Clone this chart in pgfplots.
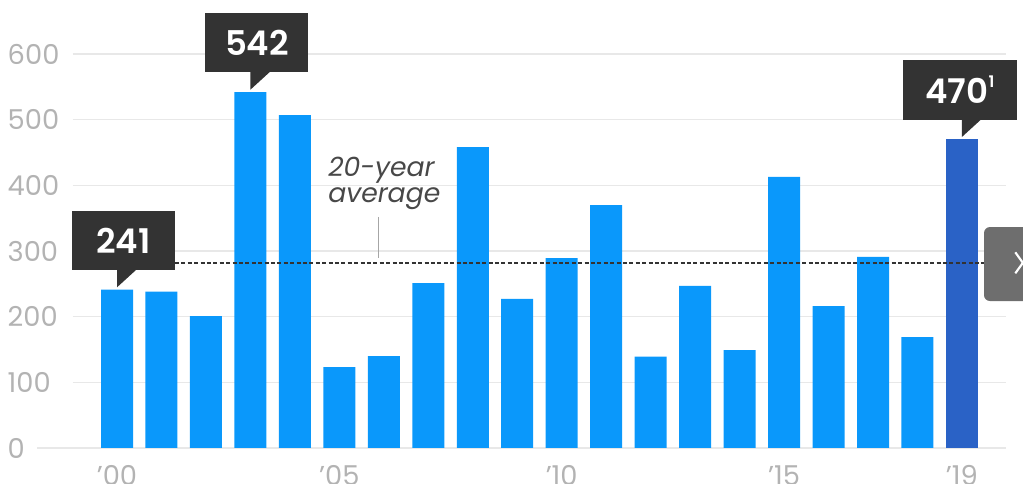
\documentclass[border=0pt]{standalone}
\usepackage{pgfplots}
\pgfplotsset{compat=1.18}
\usepackage{fontspec}
\setmainfont{Poppins}
\newfontface\semibold{Poppins SemiBold}
\usetikzlibrary{calc}
\definecolor{barblue}{HTML}{0A98FB}
\definecolor{lastblue}{HTML}{2A62C6}
\definecolor{callgray}{HTML}{333333}
\definecolor{tickgray}{HTML}{B3B3B3}
\definecolor{gridgray}{HTML}{E8E8E8}
\definecolor{btngray}{HTML}{6E6E6E}
\definecolor{notegray}{HTML}{484848}

\begin{document}
\begin{tikzpicture}
% 1 px of the reference = 0.75pt
\useasboundingbox (-54.4pt,-27pt) rectangle (712.85pt,336pt);
\begin{axis}[
    scale only axis,
    width=700.4pt, height=295.5pt,
    xmin=-1, xmax=20, ymin=0, ymax=600,
    clip=false,
    axis line style={draw=none},
    major tick length=0pt,
    ytick={0,100,...,600},
    xtick={0,5,10,15,19},
    xticklabels={’00,’05,’10,’15,’19},
    ymajorgrids,
    grid style={draw=gridgray, line width=0.9pt},
    /pgf/number format/assume math mode=true,
    ticklabel style={font=\fontsize{20.5}{20.5}\selectfont, text=tickgray},
    yticklabel style={anchor=east, inner sep=0pt, text width=48.4pt, align=left},
    xticklabel style={yshift=-9.5pt},
]
\draw[gridgray, line width=0.9pt] (axis cs:-1.8,0) -- (axis cs:-1,0);

% yearly values 2000-2018
\addplot[ybar, bar shift=0pt, bar width=24pt, fill=barblue, draw=none] coordinates {
 (0,241) (1,238) (2,201) (3,542) (4,507) (5,123) (6,140) (7,251) (8,458) (9,227)
 (10,289) (11,370) (12,139) (13,247) (14,149) (15,413) (16,216) (17,291) (18,169)
};
% 2019
\addplot[ybar, bar shift=0pt, bar width=24pt, fill=lastblue, draw=none] coordinates {(19,470)};

% 20-year average
\addplot[callgray, line width=1.1pt, dash pattern=on 3pt off 1.8pt] coordinates {(-1,282) (20.4,282)};

\node[anchor=base west, text=notegray, font=\fontsize{20}{20}\selectfont\itshape, inner sep=0pt]
  at (axis cs:4.745,412.7) {20-year};
\node[anchor=base west, text=notegray, font=\fontsize{20}{20}\selectfont\itshape, inner sep=0pt]
  at (axis cs:4.745,373.1) {average};
\draw[gray!70, line width=0.75pt] (axis cs:5.89,351.8) -- (axis cs:5.89,289.3);

% callouts
\fill[callgray] ($(axis cs:0,241)+(0pt,1.8pt)$) -- ($(axis cs:0,241)+(0pt,15.5pt)$) -- ($(axis cs:0,241)+(15pt,15.5pt)$) -- cycle;
\fill[callgray] ($(axis cs:0,241)+(-33.75pt,14.8pt)$) rectangle ($(axis cs:0,241)+(43.5pt,59.2pt)$);
\node[white, font=\fontsize{25.5}{25.5}\semibold] at ($(axis cs:0,241)+(4.9pt,37pt)$) {241};

\fill[callgray] ($(axis cs:3,542)+(0pt,1.8pt)$) -- ($(axis cs:3,542)+(0pt,15.5pt)$) -- ($(axis cs:3,542)+(15pt,15.5pt)$) -- cycle;
\fill[callgray] ($(axis cs:3,542)+(-33.75pt,14.8pt)$) rectangle ($(axis cs:3,542)+(43.5pt,59.2pt)$);
\node[white, font=\fontsize{25.5}{25.5}\semibold] at ($(axis cs:3,542)+(4.9pt,37pt)$) {542};

\fill[callgray] ($(axis cs:19,470)+(0pt,1.8pt)$) -- ($(axis cs:19,470)+(0pt,15.5pt)$) -- ($(axis cs:19,470)+(15pt,15.5pt)$) -- cycle;
\fill[callgray] ($(axis cs:19,470)+(-44.25pt,14.8pt)$) rectangle ($(axis cs:19,470)+(41.25pt,59.2pt)$);
\node[white, font=\fontsize{25.5}{25.5}\semibold] at ($(axis cs:19,470)+(-1.5pt,37pt)$)
  {470\raisebox{0.85ex}{\fontsize{12}{12}\selectfont 1}};

% slider button on the right edge
\fill[btngray, rounded corners=4.5pt] (axis cs:19.496,336.5) rectangle (axis cs:20.9,223.8);
\draw[white, line width=1.6pt] (axis cs:20.2,298) -- (axis cs:20.37,282) -- (axis cs:20.2,266);
\end{axis}
\end{tikzpicture}
\end{document}
